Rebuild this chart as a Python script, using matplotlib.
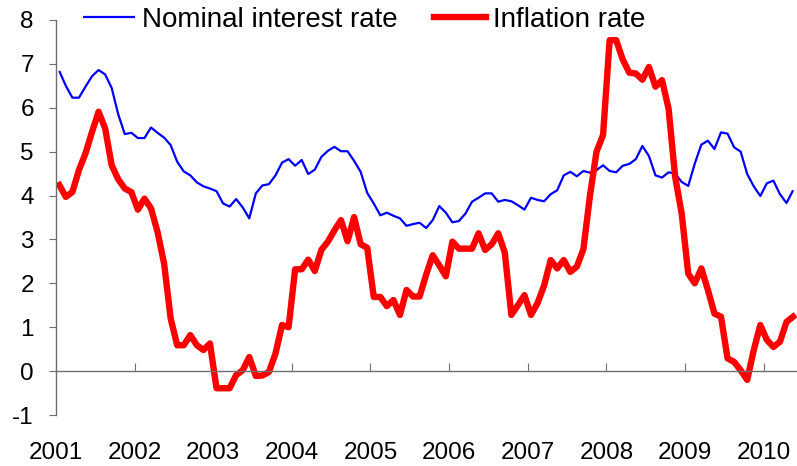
import numpy as np
import matplotlib
matplotlib.use("Agg")
import matplotlib.pyplot as plt

plt.rcParams["font.family"] = ["Liberation Sans", "DejaVu Sans"]
plt.rcParams["axes.unicode_minus"] = False

# monthly data, Jan 2001 .. May 2010
nominal = [
    6.84, 6.50, 6.23, 6.23, 6.48, 6.72, 6.86, 6.76, 6.45, 5.85, 5.40, 5.43,
    5.31, 5.31, 5.55, 5.43, 5.32, 5.15, 4.77, 4.55, 4.46, 4.30, 4.21, 4.16,
    4.10, 3.82, 3.75, 3.92, 3.73, 3.48, 4.05, 4.23, 4.26, 4.46, 4.75, 4.83,
    4.68, 4.81, 4.49, 4.59, 4.88, 5.02, 5.11, 5.01, 5.01, 4.79, 4.54, 4.06,
    3.82, 3.55, 3.61, 3.54, 3.48, 3.31, 3.35, 3.38, 3.26, 3.44, 3.76, 3.61,
    3.39, 3.42, 3.59, 3.86, 3.95, 4.05, 4.05, 3.86, 3.90, 3.87, 3.78, 3.68,
    3.95, 3.90, 3.87, 4.03, 4.12, 4.46, 4.54, 4.44, 4.56, 4.52, 4.58, 4.69,
    4.56, 4.53, 4.68, 4.72, 4.83, 5.13, 4.90, 4.46, 4.41, 4.53, 4.50, 4.31,
    4.22, 4.73, 5.16, 5.25, 5.06, 5.44, 5.41, 5.10, 5.00, 4.49, 4.21, 3.99,
    4.28, 4.34, 4.03, 3.83, 4.12,
]
inflation = [
    4.24, 3.97, 4.08, 4.58, 4.96, 5.45, 5.91, 5.53, 4.69, 4.37, 4.16, 4.08,
    3.68, 3.93, 3.71, 3.17, 2.45, 1.20, 0.59, 0.59, 0.82, 0.59, 0.48, 0.63,
    -0.39, -0.39, -0.39, -0.09, 0.02, 0.32, -0.11, -0.10, -0.02, 0.40, 1.05, 1.00,
    2.32, 2.32, 2.54, 2.28, 2.76, 2.95, 3.21, 3.44, 2.96, 3.51, 2.89, 2.81,
    1.69, 1.69, 1.48, 1.62, 1.28, 1.85, 1.70, 1.70, 2.20, 2.64, 2.41, 2.16,
    2.95, 2.79, 2.79, 2.79, 3.14, 2.76, 2.89, 3.14, 2.70, 1.28, 1.50, 1.73,
    1.28, 1.55, 1.95, 2.53, 2.34, 2.53, 2.26, 2.38, 2.78, 4.00, 5.00, 5.38,
    7.54, 7.54, 7.10, 6.80, 6.78, 6.64, 6.93, 6.48, 6.63, 5.98, 4.43, 3.59,
    2.22, 2.00, 2.34, 1.85, 1.31, 1.24, 0.29, 0.21, 0.02, -0.20, 0.48, 1.05,
    0.71, 0.55, 0.67, 1.12, 1.24,
]
years = list(range(2001, 2011))

t = 2001 + (np.arange(len(nominal)) + 0.5) / 12

W, H = 797, 466
fig = plt.figure(figsize=(W / 100, H / 100), dpi=100)
ax = fig.add_axes([56 / W, 51 / H, 1 - 56 / W, (415 - 20) / H])

AXC = "#6e6e6e"
ax.plot(t, nominal, color="#0000ff", lw=1.6, label="Nominal interest rate",
        solid_joinstyle="round", solid_capstyle="butt")
ax.plot(t, inflation, color="#ff0000", lw=4.6, label="Inflation rate",
        solid_joinstyle="round")

ax.set_xlim(2001, 2001 + 113.1 / 12)
ax.set_ylim(-1, 8)
ax.set_yticks(range(-1, 9))
ax.set_xticks(years)
ax.set_xticklabels([str(y) for y in years])

for s in ("top", "right"):
    ax.spines[s].set_visible(False)
ax.spines["bottom"].set_position(("data", 0))
ax.spines["bottom"].set_color(AXC)
ax.spines["left"].set_color(AXC)
ax.spines["bottom"].set_linewidth(1.0)
ax.spines["left"].set_linewidth(1.0)

ax.tick_params(axis="y", direction="out", length=5, color=AXC, pad=11,
               labelsize=17.5, labelcolor="black")
ax.tick_params(axis="x", direction="in", length=6, color=AXC, pad=51,
               labelsize=17.5, labelcolor="black")

fig.legend(loc="center left", bbox_to_anchor=(82.7 / W, 1 - 20 / H),
           bbox_transform=fig.transFigure, ncol=2, frameon=False,
           fontsize=20, handlelength=1.88, handletextpad=0.24,
           columnspacing=1.33, borderpad=0, borderaxespad=0)

fig.savefig("out.png", dpi=100)
